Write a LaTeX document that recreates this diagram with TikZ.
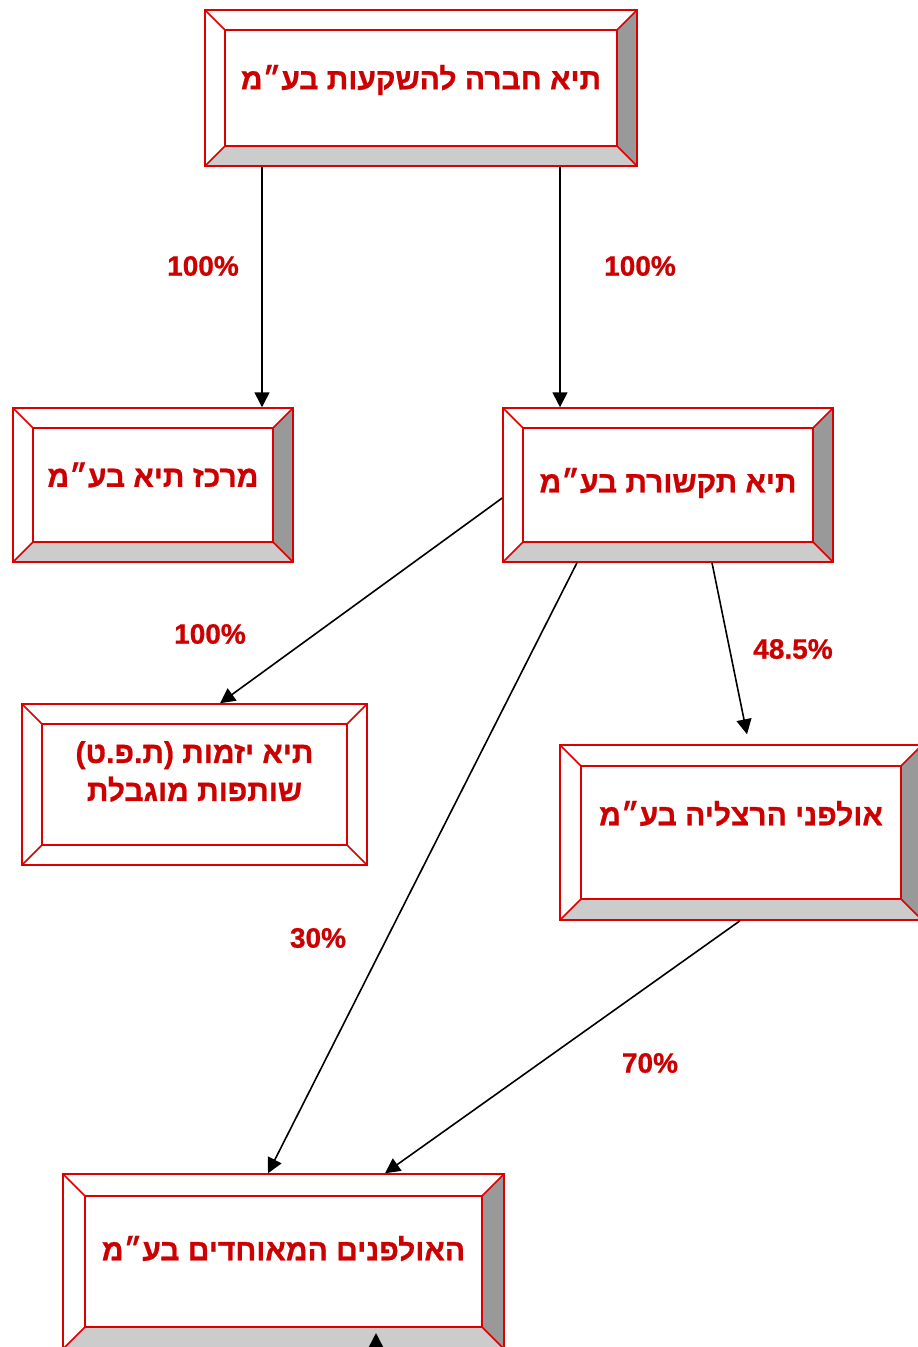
\documentclass[tikz,border=0pt]{standalone}
\usepackage{fontspec}
\usepackage{xcolor}
\usepackage{tikz}
\usetikzlibrary{arrows.meta, shapes}
\TeXXeTstate=1
\newfontfamily\hebfont[Script=Hebrew, BoldFeatures={FakeBold=0.8}]{Liberation Sans}
\newfontfamily\pctfont[BoldFeatures={FakeBold=0.8}]{Liberation Sans}
\definecolor{boxred}{HTML}{DD0000}
\definecolor{txtred}{HTML}{CC0000}
\definecolor{bevdark}{HTML}{999999}
\definecolor{bevlight}{HTML}{CCCCCC}

\tikzset{
  bevelbox/.style n args={3}{rectangle, draw=boxred, line width=1.5pt, inner sep=0pt,
    path picture={
      \path (path picture bounding box.north west) coordinate (nw)
            (path picture bounding box.north east) coordinate (ne)
            (path picture bounding box.south west) coordinate (sw)
            (path picture bounding box.south east) coordinate (se);
      \fill[#2] (ne) -- (se) -- ([shift={(-#1pt,#1pt)}]se) -- ([shift={(-#1pt,-#1pt)}]ne) -- cycle;
      \fill[#3] (sw) -- (se) -- ([shift={(-#1pt,#1pt)}]se) -- ([shift={(#1pt,#1pt)}]sw) -- cycle;
      \draw[boxred, line width=1.5pt] ([shift={(#1pt,-#1pt)}]nw) rectangle ([shift={(-#1pt,#1pt)}]se);
      \draw[boxred, line width=1.5pt] (nw) -- ++(#1pt,-#1pt) (ne) -- ++(-#1pt,-#1pt)
            (sw) -- ++(#1pt,#1pt) (se) -- ++(-#1pt,#1pt);
    }},
  hebtext/.style={font=\hebfont\bfseries\fontsize{30}{38}\selectfont, text=txtred, align=center, inner sep=0pt},
  pct/.style={font=\pctfont\bfseries\fontsize{28}{30}\selectfont, text=txtred, inner sep=0pt}
}

\begin{document}
\begin{tikzpicture}[x=1pt, y=-1pt]
\useasboundingbox (0,0) rectangle (918,1347);
\fill[white] (0,0) rectangle (918,1347);

% companies
\node[bevelbox={20}{bevdark}{bevlight}, minimum width=432pt, minimum height=156pt] (holding) at (421,88) {};
\node[bevelbox={20}{bevdark}{bevlight}, minimum width=280pt, minimum height=154pt] (merkaz) at (153,485) {};
\node[bevelbox={20}{bevdark}{bevlight}, minimum width=330pt, minimum height=154pt] (tikshoret) at (668,485) {};
\node[bevelbox={20}{white}{white}, minimum width=345pt, minimum height=161pt] (yazamut) at (194.5,784.5) {};
\node[bevelbox={21}{bevdark}{bevlight}, minimum width=362pt, minimum height=175pt] (herzliya) at (741,832.5) {};
\node[bevelbox={22}{bevdark}{bevlight}, minimum width=441pt, minimum height=175pt] (united) at (283.5,1261.5) {};

% names
\node[hebtext] (holdingT) at ([yshift=8pt]holding.center) {\beginR תיא חברה להשקעות בע״מ\endR};
\node[hebtext] (merkazT) at ([yshift=10pt]merkaz.center) {\beginR מרכז תיא בע״מ\endR};
\node[hebtext] (tikshoretT) at ([yshift=2pt]tikshoret.center) {\beginR תיא תקשורת בע״מ\endR};
\node[hebtext] (yazamutT) at ([yshift=13pt]yazamut.center) {\beginR תיא יזמות (ת.פ.ט)\endR\\\beginR שותפות מוגבלת\endR};
\node[hebtext] (herzliyaT) at ([yshift=19pt]herzliya.center) {\beginR אולפני הרצליה בע״מ\endR};
\node[hebtext] (unitedT) at ([yshift=13pt]united.center) {\beginR האולפנים המאוחדים בע״מ\endR};

\coordinate (feed) at (376,1420);

% holdings
\begin{scope}[>={Triangle[length=15pt,width=15pt]},
              every edge/.style={draw=black, line width=1.6pt}]
    \path[->] ([xshift=-159pt]holding.south) edge ([xshift=109pt]merkaz.north);
    \path[->] ([xshift=139pt]holding.south) edge ([xshift=-108pt]tikshoret.north);
    \path[->] ([yshift=-13pt]tikshoret.west) edge ([xshift=25.5pt]yazamut.north);
    \path[->] ([xshift=-91pt]tikshoret.south) edge ([xshift=-15.5pt]united.north);
    \path[->] ([xshift=44pt]tikshoret.south) edge ([xshift=6pt,yshift=10pt]herzliya.north);
    \path[->] ([xshift=-1pt]herzliya.south) edge ([xshift=101.5pt]united.north);
    \path[->] (feed) edge ([xshift=92.5pt,yshift=-71.5pt]united.center);
\end{scope}

% shares
\node[pct] (p1) at (203,266) {100\%};
\node[pct] (p2) at (640,266) {100\%};
\node[pct] (p3) at (210,634) {100\%};
\node[pct] (p4) at (793,649) {48.5\%};
\node[pct] (p5) at (318,938) {30\%};
\node[pct] (p6) at (650,1063) {70\%};

\end{tikzpicture}
\end{document}
